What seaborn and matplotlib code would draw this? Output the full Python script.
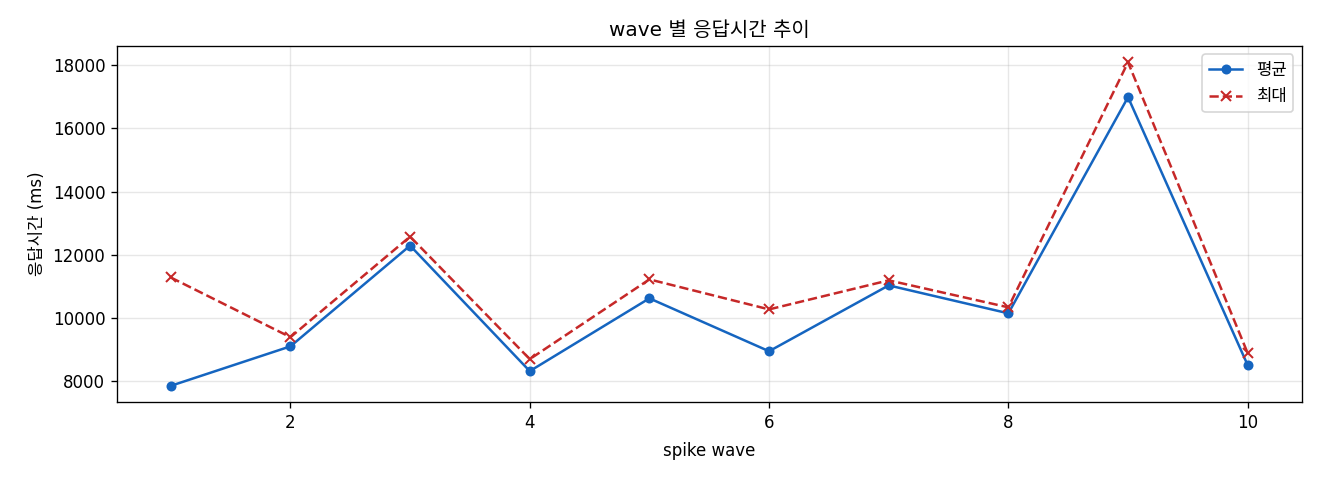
import numpy as np
import pandas as pd
import matplotlib
matplotlib.use("Agg")
import matplotlib.pyplot as plt
import seaborn as sns

plt.rcParams['font.family'] = ['DejaVu Sans', 'Noto Sans CJK KR']
plt.rcParams['axes.unicode_minus'] = False

waves = [1, 2, 3, 4, 5, 6, 7, 8, 9, 10]
avg_ms = [7850, 9100, 12290, 8315, 10620, 8945, 11030, 10145, 16990, 8505]
max_ms = [11280, 9390, 12575, 8695, 11220, 10270, 11190, 10335, 18095, 8885]

df = pd.DataFrame({"wave": waves, "avg": avg_ms, "max": max_ms})

fig, ax = plt.subplots(figsize=(11, 4), dpi=120)
fig.subplots_adjust(left=0.0886, right=0.986, top=0.904, bottom=0.1625)

sns.lineplot(data=df, x="wave", y="avg", ax=ax, color="#1565C0", marker="o",
             markersize=6, markeredgewidth=0, linewidth=1.5, label="평균")
sns.lineplot(data=df, x="wave", y="max", ax=ax, color="#C62828", marker="x",
             markersize=6, markeredgecolor="#C62828", markeredgewidth=1.2,
             linewidth=1.5, linestyle="--", label="최대")

ax.set_title("wave 별 응답시간 추이", fontsize=12)
ax.set_xlabel("spike wave", labelpad=6)
ax.set_ylabel("응답시간 (ms)")
ax.grid(True, alpha=0.3)
ax.legend(loc="upper right")

fig.savefig("out.png", dpi=120)
